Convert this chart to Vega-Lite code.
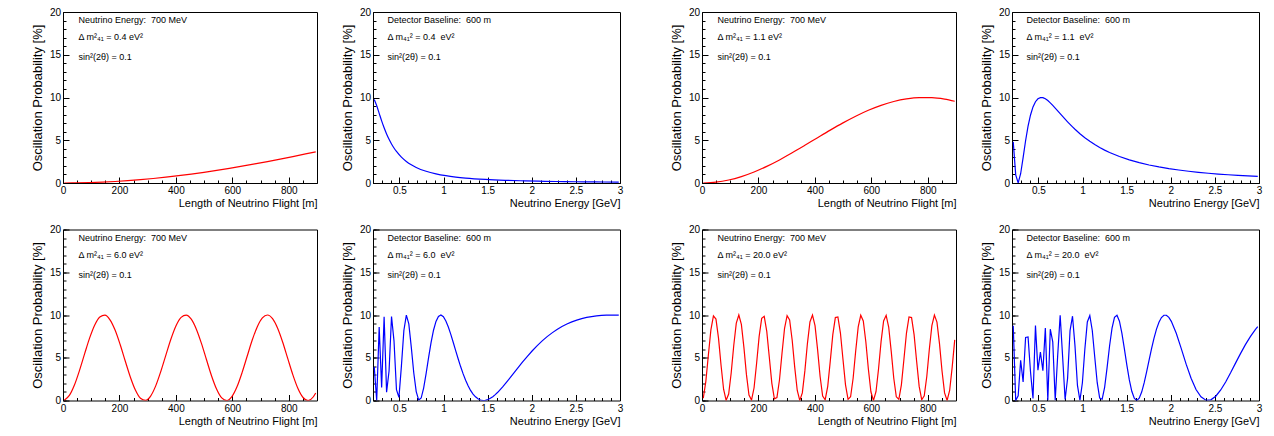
{
  "$schema": "https://vega.github.io/schema/vega-lite/v6.json",
  "background": "white",
  "padding": {"left": 30, "top": 6, "right": 0, "bottom": 0},
  "datasets": {
    "p1": [{"L":4.5,"P":0},{"L":49.5,"P":0.013},{"L":94.5,"P":0.047},{"L":139.5,"P":0.102},{"L":184.5,"P":0.177},{"L":229.5,"P":0.274},{"L":274.5,"P":0.39},{"L":319.5,"P":0.526},{"L":364.5,"P":0.68},{"L":409.5,"P":0.854},{"L":454.5,"P":1.044},{"L":499.5,"P":1.252},{"L":544.5,"P":1.475},{"L":589.5,"P":1.714},{"L":634.5,"P":1.966},{"L":679.5,"P":2.231},{"L":724.5,"P":2.508},{"L":769.5,"P":2.796},{"L":814.5,"P":3.093},{"L":859.5,"P":3.398},{"L":895.5,"P":3.647}],
    "p2": [{"E":0.214,"P":9.777},{"E":0.242,"P":9.044},{"E":0.27,"P":8.15},{"E":0.298,"P":7.264},{"E":0.326,"P":6.452},{"E":0.354,"P":5.733},{"E":0.382,"P":5.106},{"E":0.41,"P":4.563},{"E":0.438,"P":4.094},{"E":0.466,"P":3.687},{"E":0.522,"P":3.027},{"E":0.578,"P":2.522},{"E":0.634,"P":2.129},{"E":0.69,"P":1.82},{"E":0.802,"P":1.37},{"E":0.914,"P":1.067},{"E":1.026,"P":0.853},{"E":1.138,"P":0.697},{"E":1.25,"P":0.58},{"E":1.474,"P":0.42},{"E":1.698,"P":0.317},{"E":1.922,"P":0.248},{"E":2.146,"P":0.199},{"E":2.37,"P":0.164},{"E":2.594,"P":0.137},{"E":2.818,"P":0.116},{"E":2.986,"P":0.103}],
    "p3": [{"L":4.5,"P":0.001},{"L":49.5,"P":0.097},{"L":94.5,"P":0.35},{"L":139.5,"P":0.752},{"L":184.5,"P":1.29},{"L":229.5,"P":1.947},{"L":274.5,"P":2.701},{"L":319.5,"P":3.529},{"L":364.5,"P":4.405},{"L":409.5,"P":5.299},{"L":454.5,"P":6.184},{"L":499.5,"P":7.031},{"L":544.5,"P":7.812},{"L":589.5,"P":8.504},{"L":634.5,"P":9.084},{"L":679.5,"P":9.533},{"L":724.5,"P":9.836},{"L":769.5,"P":9.985},{"L":814.5,"P":9.974},{"L":859.5,"P":9.804},{"L":895.5,"P":9.557}],
    "p4": [{"E":0.214,"P":4.806},{"E":0.242,"P":0.953},{"E":0.27,"P":0.02},{"E":0.298,"P":1.084},{"E":0.326,"P":2.971},{"E":0.354,"P":4.94},{"E":0.382,"P":6.64},{"E":0.41,"P":7.959},{"E":0.438,"P":8.898},{"E":0.466,"P":9.508},{"E":0.494,"P":9.852},{"E":0.522,"P":9.99},{"E":0.55,"P":9.975},{"E":0.578,"P":9.847},{"E":0.606,"P":9.64},{"E":0.634,"P":9.379},{"E":0.662,"P":9.083},{"E":0.69,"P":8.766},{"E":0.718,"P":8.439},{"E":0.746,"P":8.109},{"E":0.774,"P":7.782},{"E":0.802,"P":7.461},{"E":0.83,"P":7.149},{"E":0.858,"P":6.847},{"E":0.886,"P":6.558},{"E":0.914,"P":6.281},{"E":0.97,"P":5.764},{"E":1.026,"P":5.296},{"E":1.082,"P":4.875},{"E":1.138,"P":4.495},{"E":1.194,"P":4.154},{"E":1.25,"P":3.846},{"E":1.306,"P":3.569},{"E":1.418,"P":3.093},{"E":1.53,"P":2.701},{"E":1.642,"P":2.377},{"E":1.754,"P":2.106},{"E":1.866,"P":1.877},{"E":1.978,"P":1.683},{"E":2.09,"P":1.517},{"E":2.202,"P":1.374},{"E":2.314,"P":1.25},{"E":2.426,"P":1.142},{"E":2.538,"P":1.047},{"E":2.65,"P":0.963},{"E":2.762,"P":0.889},{"E":2.874,"P":0.823},{"E":2.986,"P":0.764}],
    "p5": [{"L":4.5,"P":0.03},{"L":22.5,"P":0.59},{"L":40.5,"P":1.81},{"L":58.5,"P":3.52},{"L":76.5,"P":5.45},{"L":94.5,"P":7.32},{"L":112.5,"P":8.83},{"L":130.5,"P":9.77},{"L":148.5,"P":9.98},{"L":166.5,"P":9.44},{"L":184.5,"P":8.24},{"L":202.5,"P":6.55},{"L":220.5,"P":4.62},{"L":238.5,"P":2.75},{"L":256.5,"P":1.22},{"L":274.5,"P":0.26},{"L":292.5,"P":0.01},{"L":310.5,"P":0.52},{"L":328.5,"P":1.71},{"L":346.5,"P":3.39},{"L":364.5,"P":5.31},{"L":382.5,"P":7.19},{"L":400.5,"P":8.74},{"L":418.5,"P":9.72},{"L":436.5,"P":9.99},{"L":454.5,"P":9.51},{"L":472.5,"P":8.34},{"L":490.5,"P":6.68},{"L":508.5,"P":4.76},{"L":526.5,"P":2.87},{"L":544.5,"P":1.31},{"L":562.5,"P":0.3},{"L":580.5,"P":0},{"L":598.5,"P":0.46},{"L":616.5,"P":1.6},{"L":634.5,"P":3.26},{"L":652.5,"P":5.17},{"L":670.5,"P":7.07},{"L":688.5,"P":8.64},{"L":706.5,"P":9.67},{"L":724.5,"P":10},{"L":742.5,"P":9.57},{"L":760.5,"P":8.45},{"L":778.5,"P":6.81},{"L":796.5,"P":4.89},{"L":814.5,"P":3},{"L":832.5,"P":1.4},{"L":850.5,"P":0.35},{"L":868.5,"P":0},{"L":886.5,"P":0.41},{"L":895.5,"P":0.88}],
    "p6": [{"E":0.214,"P":3.93},{"E":0.242,"P":0},{"E":0.27,"P":8.59},{"E":0.298,"P":1.53},{"E":0.326,"P":9.79},{"E":0.354,"P":0.98},{"E":0.382,"P":3.45},{"E":0.41,"P":9.83},{"E":0.438,"P":6.98},{"E":0.466,"P":1.26},{"E":0.494,"P":0.36},{"E":0.522,"P":4.02},{"E":0.55,"P":8.19},{"E":0.578,"P":9.98},{"E":0.606,"P":8.96},{"E":0.634,"P":6.24},{"E":0.662,"P":3.25},{"E":0.69,"P":1.04},{"E":0.718,"P":0.05},{"E":0.746,"P":0.29},{"E":0.774,"P":1.45},{"E":0.802,"P":3.15},{"E":0.83,"P":5.02},{"E":0.858,"P":6.78},{"E":0.886,"P":8.22},{"E":0.914,"P":9.25},{"E":0.942,"P":9.83},{"E":0.97,"P":10},{"E":0.998,"P":9.8},{"E":1.026,"P":9.3},{"E":1.054,"P":8.59},{"E":1.082,"P":7.73},{"E":1.11,"P":6.78},{"E":1.138,"P":5.81},{"E":1.166,"P":4.85},{"E":1.194,"P":3.94},{"E":1.222,"P":3.11},{"E":1.25,"P":2.36},{"E":1.278,"P":1.72},{"E":1.306,"P":1.18},{"E":1.334,"P":0.75},{"E":1.362,"P":0.43},{"E":1.39,"P":0.2},{"E":1.418,"P":0.06},{"E":1.446,"P":0},{"E":1.474,"P":0.02},{"E":1.502,"P":0.11},{"E":1.53,"P":0.26},{"E":1.558,"P":0.45},{"E":1.586,"P":0.69},{"E":1.614,"P":0.96},{"E":1.67,"P":1.59},{"E":1.726,"P":2.29},{"E":1.782,"P":3.02},{"E":1.838,"P":3.76},{"E":1.894,"P":4.48},{"E":1.95,"P":5.17},{"E":2.006,"P":5.82},{"E":2.062,"P":6.42},{"E":2.118,"P":6.97},{"E":2.174,"P":7.47},{"E":2.23,"P":7.91},{"E":2.286,"P":8.3},{"E":2.342,"P":8.65},{"E":2.398,"P":8.94},{"E":2.454,"P":9.19},{"E":2.51,"P":9.4},{"E":2.566,"P":9.58},{"E":2.622,"P":9.72},{"E":2.678,"P":9.82},{"E":2.734,"P":9.9},{"E":2.79,"P":9.96},{"E":2.846,"P":9.99},{"E":2.902,"P":10},{"E":2.958,"P":9.99},{"E":2.986,"P":9.98}],
    "p7": [{"L":4.5,"P":0.26},{"L":13.5,"P":2.21},{"L":22.5,"P":5.29},{"L":31.5,"P":8.26},{"L":40.5,"P":9.89},{"L":49.5,"P":9.52},{"L":58.5,"P":7.29},{"L":67.5,"P":4.13},{"L":76.5,"P":1.32},{"L":85.5,"P":0.02},{"L":94.5,"P":0.76},{"L":103.5,"P":3.24},{"L":112.5,"P":6.43},{"L":121.5,"P":9.05},{"L":130.5,"P":10},{"L":139.5,"P":8.9},{"L":148.5,"P":6.21},{"L":157.5,"P":3.02},{"L":166.5,"P":0.64},{"L":175.5,"P":0.05},{"L":184.5,"P":1.49},{"L":193.5,"P":4.36},{"L":202.5,"P":7.5},{"L":211.5,"P":9.61},{"L":220.5,"P":9.84},{"L":229.5,"P":8.08},{"L":238.5,"P":5.06},{"L":247.5,"P":2.01},{"L":256.5,"P":0.2},{"L":265.5,"P":0.34},{"L":274.5,"P":2.4},{"L":283.5,"P":5.52},{"L":292.5,"P":8.43},{"L":301.5,"P":9.93},{"L":310.5,"P":9.41},{"L":319.5,"P":7.08},{"L":328.5,"P":3.9},{"L":337.5,"P":1.17},{"L":346.5,"P":0.01},{"L":355.5,"P":0.89},{"L":364.5,"P":3.46},{"L":373.5,"P":6.66},{"L":382.5,"P":9.18},{"L":391.5,"P":9.99},{"L":400.5,"P":8.75},{"L":409.5,"P":5.98},{"L":418.5,"P":2.81},{"L":427.5,"P":0.53},{"L":436.5,"P":0.09},{"L":445.5,"P":1.66},{"L":454.5,"P":4.6},{"L":463.5,"P":7.7},{"L":472.5,"P":9.7},{"L":481.5,"P":9.77},{"L":490.5,"P":7.89},{"L":499.5,"P":4.82},{"L":508.5,"P":1.83},{"L":517.5,"P":0.14},{"L":526.5,"P":0.44},{"L":535.5,"P":2.6},{"L":544.5,"P":5.76},{"L":553.5,"P":8.6},{"L":562.5,"P":9.97},{"L":571.5,"P":9.3},{"L":580.5,"P":6.87},{"L":589.5,"P":3.68},{"L":598.5,"P":1.02},{"L":607.5,"P":0},{"L":616.5,"P":1.03},{"L":625.5,"P":3.68},{"L":634.5,"P":6.88},{"L":643.5,"P":9.3},{"L":652.5,"P":9.96},{"L":661.5,"P":8.59},{"L":670.5,"P":5.75},{"L":679.5,"P":2.6},{"L":688.5,"P":0.43},{"L":697.5,"P":0.14},{"L":706.5,"P":1.83},{"L":715.5,"P":4.83},{"L":724.5,"P":7.89},{"L":733.5,"P":9.77},{"L":742.5,"P":9.7},{"L":751.5,"P":7.7},{"L":760.5,"P":4.59},{"L":769.5,"P":1.65},{"L":778.5,"P":0.09},{"L":787.5,"P":0.54},{"L":796.5,"P":2.81},{"L":805.5,"P":5.99},{"L":814.5,"P":8.76},{"L":823.5,"P":9.99},{"L":832.5,"P":9.17},{"L":841.5,"P":6.65},{"L":850.5,"P":3.45},{"L":859.5,"P":0.89},{"L":868.5,"P":0.01},{"L":877.5,"P":1.17},{"L":886.5,"P":3.91},{"L":895.5,"P":7.09}],
    "p8": [{"E":0.214,"P":8.75},{"E":0.242,"P":0},{"E":0.27,"P":0.56},{"E":0.298,"P":4.69},{"E":0.326,"P":2.18},{"E":0.354,"P":7.38},{"E":0.382,"P":7.43},{"E":0.41,"P":3.34},{"E":0.438,"P":0.24},{"E":0.466,"P":8.76},{"E":0.494,"P":3.55},{"E":0.522,"P":5.66},{"E":0.55,"P":3.48},{"E":0.578,"P":8.49},{"E":0.606,"P":0.02},{"E":0.634,"P":8.34},{"E":0.662,"P":6.86},{"E":0.69,"P":0.02},{"E":0.718,"P":5.3},{"E":0.746,"P":9.98},{"E":0.774,"P":5.08},{"E":0.802,"P":0.12},{"E":0.83,"P":2.57},{"E":0.858,"P":8.17},{"E":0.886,"P":9.86},{"E":0.914,"P":6.39},{"E":0.942,"P":1.76},{"E":0.97,"P":0.01},{"E":0.998,"P":2.08},{"E":1.026,"P":6.03},{"E":1.054,"P":9.19},{"E":1.082,"P":9.93},{"E":1.11,"P":8.19},{"E":1.138,"P":5.09},{"E":1.166,"P":2.08},{"E":1.194,"P":0.28},{"E":1.222,"P":0.15},{"E":1.25,"P":1.54},{"E":1.278,"P":3.85},{"E":1.306,"P":6.37},{"E":1.334,"P":8.47},{"E":1.362,"P":9.72},{"E":1.39,"P":9.97},{"E":1.418,"P":9.27},{"E":1.446,"P":7.86},{"E":1.474,"P":6.04},{"E":1.502,"P":4.13},{"E":1.53,"P":2.41},{"E":1.558,"P":1.08},{"E":1.586,"P":0.26},{"E":1.614,"P":0},{"E":1.642,"P":0.27},{"E":1.67,"P":0.99},{"E":1.698,"P":2.06},{"E":1.726,"P":3.34},{"E":1.754,"P":4.71},{"E":1.782,"P":6.07},{"E":1.81,"P":7.3},{"E":1.838,"P":8.35},{"E":1.866,"P":9.16},{"E":1.894,"P":9.7},{"E":1.922,"P":9.97},{"E":1.95,"P":9.97},{"E":1.978,"P":9.72},{"E":2.006,"P":9.26},{"E":2.062,"P":7.86},{"E":2.118,"P":6.09},{"E":2.174,"P":4.25},{"E":2.23,"P":2.6},{"E":2.286,"P":1.29},{"E":2.342,"P":0.43},{"E":2.398,"P":0.03},{"E":2.454,"P":0.08},{"E":2.51,"P":0.5},{"E":2.566,"P":1.23},{"E":2.622,"P":2.17},{"E":2.678,"P":3.24},{"E":2.734,"P":4.37},{"E":2.79,"P":5.48},{"E":2.846,"P":6.53},{"E":2.902,"P":7.47},{"E":2.958,"P":8.28},{"E":2.986,"P":8.63}]
  },
  "columns": 2,
  "spacing": {"row": 14.5, "column": 45},
  "concat": [
    {"hconcat": [
      {"width": 254, "height": 171,
       "layer": [
        {"data": {"name": "p1"}, "mark": {"type": "line", "color": "#ff0000", "strokeWidth": 1.2, "clip": true, "interpolate": "monotone"},
         "encoding": {
          "x": {"field": "L", "type": "quantitative", "scale": {"domain": [0, 900], "nice": false, "zero": false}, "axis": {"values": [0, 200, 400, 600, 800], "format": "d", "tickSize": -6, "title": "Length of Neutrino Flight [m]"}},
          "y": {"field": "P", "type": "quantitative", "scale": {"domain": [0, 20], "nice": false}, "axis": {"values": [0, 5, 10, 15, 20], "format": "d", "tickSize": -6, "title": "Oscillation Probability [%]"}}}},
        {"data": {"values": [{"x": 55, "y": 19.05, "t": "Neutrino Energy:\u00a0 700 MeV"}, {"x": 55, "y": 17.05, "t": "Δ m²₄₁ = 0.4 eV²"}, {"x": 55, "y": 14.7, "t": "sin²(2θ) = 0.1"}]},
         "mark": {"type": "text", "align": "left", "baseline": "middle", "fontSize": 9, "color": "#000000"},
         "encoding": {
          "x": {"field": "x", "type": "quantitative", "scale": {"domain": [0, 900], "nice": false, "zero": false}, "axis": {"orient": "bottom", "values": [0,50,100,150,200,250,300,350,400,450,500,550,600,650,700,750,800,850,900], "tickSize": -3, "labels": false, "title": null}},
          "y": {"field": "y", "type": "quantitative", "scale": {"domain": [0, 20], "nice": false}, "axis": {"orient": "left", "values": [0,1,2,3,4,5,6,7,8,9,10,11,12,13,14,15,16,17,18,19,20], "tickSize": -3, "labels": false, "title": null}},
          "text": {"field": "t"}}}
       ],
       "resolve": {"axis": {"x": "independent", "y": "independent"}}},
      {"width": 247, "height": 171,
       "layer": [
        {"data": {"name": "p2"}, "mark": {"type": "line", "color": "#0000ff", "strokeWidth": 1.2, "clip": true, "interpolate": "monotone"},
         "encoding": {
          "x": {"field": "E", "type": "quantitative", "scale": {"domain": [0.2, 3], "nice": false, "zero": false}, "axis": {"values": [0.5, 1, 1.5, 2, 2.5, 3], "format": "~g", "tickSize": -6, "title": "Neutrino Energy [GeV]"}},
          "y": {"field": "P", "type": "quantitative", "scale": {"domain": [0, 20], "nice": false}, "axis": {"values": [0, 5, 10, 15, 20], "format": "d", "tickSize": -6, "title": "Oscillation Probability [%]"}}}},
        {"data": {"values": [{"x": 0.365, "y": 19.05, "t": "Detector Baseline:\u00a0 600 m"}, {"x": 0.365, "y": 17.05, "t": "Δ m₄₁² = 0.4\u00a0 eV²"}, {"x": 0.365, "y": 14.7, "t": "sin²(2θ) = 0.1"}]},
         "mark": {"type": "text", "align": "left", "baseline": "middle", "fontSize": 9, "color": "#000000"},
         "encoding": {
          "x": {"field": "x", "type": "quantitative", "scale": {"domain": [0.2, 3], "nice": false, "zero": false}, "axis": {"orient": "bottom", "values": [0.2,0.3,0.4,0.5,0.6,0.7,0.8,0.9,1,1.1,1.2,1.3,1.4,1.5,1.6,1.7,1.8,1.9,2,2.1,2.2,2.3,2.4,2.5,2.6,2.7,2.8,2.9,3], "tickSize": -3, "labels": false, "title": null}},
          "y": {"field": "y", "type": "quantitative", "scale": {"domain": [0, 20], "nice": false}, "axis": {"orient": "left", "values": [0,1,2,3,4,5,6,7,8,9,10,11,12,13,14,15,16,17,18,19,20], "tickSize": -3, "labels": false, "title": null}},
          "text": {"field": "t"}}}
       ],
       "resolve": {"axis": {"x": "independent", "y": "independent"}}}
    ], "spacing": 22},
    {"hconcat": [
      {"width": 254, "height": 171,
       "layer": [
        {"data": {"name": "p3"}, "mark": {"type": "line", "color": "#ff0000", "strokeWidth": 1.2, "clip": true, "interpolate": "monotone"},
         "encoding": {
          "x": {"field": "L", "type": "quantitative", "scale": {"domain": [0, 900], "nice": false, "zero": false}, "axis": {"values": [0, 200, 400, 600, 800], "format": "d", "tickSize": -6, "title": "Length of Neutrino Flight [m]"}},
          "y": {"field": "P", "type": "quantitative", "scale": {"domain": [0, 20], "nice": false}, "axis": {"values": [0, 5, 10, 15, 20], "format": "d", "tickSize": -6, "title": "Oscillation Probability [%]"}}}},
        {"data": {"values": [{"x": 55, "y": 19.05, "t": "Neutrino Energy:\u00a0 700 MeV"}, {"x": 55, "y": 17.05, "t": "Δ m²₄₁ = 1.1 eV²"}, {"x": 55, "y": 14.7, "t": "sin²(2θ) = 0.1"}]},
         "mark": {"type": "text", "align": "left", "baseline": "middle", "fontSize": 9, "color": "#000000"},
         "encoding": {
          "x": {"field": "x", "type": "quantitative", "scale": {"domain": [0, 900], "nice": false, "zero": false}, "axis": {"orient": "bottom", "values": [0,50,100,150,200,250,300,350,400,450,500,550,600,650,700,750,800,850,900], "tickSize": -3, "labels": false, "title": null}},
          "y": {"field": "y", "type": "quantitative", "scale": {"domain": [0, 20], "nice": false}, "axis": {"orient": "left", "values": [0,1,2,3,4,5,6,7,8,9,10,11,12,13,14,15,16,17,18,19,20], "tickSize": -3, "labels": false, "title": null}},
          "text": {"field": "t"}}}
       ],
       "resolve": {"axis": {"x": "independent", "y": "independent"}}},
      {"width": 247, "height": 171,
       "layer": [
        {"data": {"name": "p4"}, "mark": {"type": "line", "color": "#0000ff", "strokeWidth": 1.2, "clip": true},
         "encoding": {
          "x": {"field": "E", "type": "quantitative", "scale": {"domain": [0.2, 3], "nice": false, "zero": false}, "axis": {"values": [0.5, 1, 1.5, 2, 2.5, 3], "format": "~g", "tickSize": -6, "title": "Neutrino Energy [GeV]"}},
          "y": {"field": "P", "type": "quantitative", "scale": {"domain": [0, 20], "nice": false}, "axis": {"values": [0, 5, 10, 15, 20], "format": "d", "tickSize": -6, "title": "Oscillation Probability [%]"}}}},
        {"data": {"values": [{"x": 0.365, "y": 19.05, "t": "Detector Baseline:\u00a0 600 m"}, {"x": 0.365, "y": 17.05, "t": "Δ m₄₁² = 1.1\u00a0 eV²"}, {"x": 0.365, "y": 14.7, "t": "sin²(2θ) = 0.1"}]},
         "mark": {"type": "text", "align": "left", "baseline": "middle", "fontSize": 9, "color": "#000000"},
         "encoding": {
          "x": {"field": "x", "type": "quantitative", "scale": {"domain": [0.2, 3], "nice": false, "zero": false}, "axis": {"orient": "bottom", "values": [0.2,0.3,0.4,0.5,0.6,0.7,0.8,0.9,1,1.1,1.2,1.3,1.4,1.5,1.6,1.7,1.8,1.9,2,2.1,2.2,2.3,2.4,2.5,2.6,2.7,2.8,2.9,3], "tickSize": -3, "labels": false, "title": null}},
          "y": {"field": "y", "type": "quantitative", "scale": {"domain": [0, 20], "nice": false}, "axis": {"orient": "left", "values": [0,1,2,3,4,5,6,7,8,9,10,11,12,13,14,15,16,17,18,19,20], "tickSize": -3, "labels": false, "title": null}},
          "text": {"field": "t"}}}
       ],
       "resolve": {"axis": {"x": "independent", "y": "independent"}}}
    ], "spacing": 22},
    {"hconcat": [
      {"width": 254, "height": 171,
       "layer": [
        {"data": {"name": "p5"}, "mark": {"type": "line", "color": "#ff0000", "strokeWidth": 1.2, "clip": true, "interpolate": "monotone"},
         "encoding": {
          "x": {"field": "L", "type": "quantitative", "scale": {"domain": [0, 900], "nice": false, "zero": false}, "axis": {"values": [0, 200, 400, 600, 800], "format": "d", "tickSize": -6, "title": "Length of Neutrino Flight [m]"}},
          "y": {"field": "P", "type": "quantitative", "scale": {"domain": [0, 20], "nice": false}, "axis": {"values": [0, 5, 10, 15, 20], "format": "d", "tickSize": -6, "title": "Oscillation Probability [%]"}}}},
        {"data": {"values": [{"x": 55, "y": 19.05, "t": "Neutrino Energy:\u00a0 700 MeV"}, {"x": 55, "y": 17.05, "t": "Δ m²₄₁ = 6.0 eV²"}, {"x": 55, "y": 14.7, "t": "sin²(2θ) = 0.1"}]},
         "mark": {"type": "text", "align": "left", "baseline": "middle", "fontSize": 9, "color": "#000000"},
         "encoding": {
          "x": {"field": "x", "type": "quantitative", "scale": {"domain": [0, 900], "nice": false, "zero": false}, "axis": {"orient": "bottom", "values": [0,50,100,150,200,250,300,350,400,450,500,550,600,650,700,750,800,850,900], "tickSize": -3, "labels": false, "title": null}},
          "y": {"field": "y", "type": "quantitative", "scale": {"domain": [0, 20], "nice": false}, "axis": {"orient": "left", "values": [0,1,2,3,4,5,6,7,8,9,10,11,12,13,14,15,16,17,18,19,20], "tickSize": -3, "labels": false, "title": null}},
          "text": {"field": "t"}}}
       ],
       "resolve": {"axis": {"x": "independent", "y": "independent"}}},
      {"width": 247, "height": 171,
       "layer": [
        {"data": {"name": "p6"}, "mark": {"type": "line", "color": "#0000ff", "strokeWidth": 1.2, "clip": true},
         "encoding": {
          "x": {"field": "E", "type": "quantitative", "scale": {"domain": [0.2, 3], "nice": false, "zero": false}, "axis": {"values": [0.5, 1, 1.5, 2, 2.5, 3], "format": "~g", "tickSize": -6, "title": "Neutrino Energy [GeV]"}},
          "y": {"field": "P", "type": "quantitative", "scale": {"domain": [0, 20], "nice": false}, "axis": {"values": [0, 5, 10, 15, 20], "format": "d", "tickSize": -6, "title": "Oscillation Probability [%]"}}}},
        {"data": {"values": [{"x": 0.365, "y": 19.05, "t": "Detector Baseline:\u00a0 600 m"}, {"x": 0.365, "y": 17.05, "t": "Δ m₄₁² = 6.0\u00a0 eV²"}, {"x": 0.365, "y": 14.7, "t": "sin²(2θ) = 0.1"}]},
         "mark": {"type": "text", "align": "left", "baseline": "middle", "fontSize": 9, "color": "#000000"},
         "encoding": {
          "x": {"field": "x", "type": "quantitative", "scale": {"domain": [0.2, 3], "nice": false, "zero": false}, "axis": {"orient": "bottom", "values": [0.2,0.3,0.4,0.5,0.6,0.7,0.8,0.9,1,1.1,1.2,1.3,1.4,1.5,1.6,1.7,1.8,1.9,2,2.1,2.2,2.3,2.4,2.5,2.6,2.7,2.8,2.9,3], "tickSize": -3, "labels": false, "title": null}},
          "y": {"field": "y", "type": "quantitative", "scale": {"domain": [0, 20], "nice": false}, "axis": {"orient": "left", "values": [0,1,2,3,4,5,6,7,8,9,10,11,12,13,14,15,16,17,18,19,20], "tickSize": -3, "labels": false, "title": null}},
          "text": {"field": "t"}}}
       ],
       "resolve": {"axis": {"x": "independent", "y": "independent"}}}
    ], "spacing": 22},
    {"hconcat": [
      {"width": 254, "height": 171,
       "layer": [
        {"data": {"name": "p7"}, "mark": {"type": "line", "color": "#ff0000", "strokeWidth": 1.2, "clip": true},
         "encoding": {
          "x": {"field": "L", "type": "quantitative", "scale": {"domain": [0, 900], "nice": false, "zero": false}, "axis": {"values": [0, 200, 400, 600, 800], "format": "d", "tickSize": -6, "title": "Length of Neutrino Flight [m]"}},
          "y": {"field": "P", "type": "quantitative", "scale": {"domain": [0, 20], "nice": false}, "axis": {"values": [0, 5, 10, 15, 20], "format": "d", "tickSize": -6, "title": "Oscillation Probability [%]"}}}},
        {"data": {"values": [{"x": 55, "y": 19.05, "t": "Neutrino Energy:\u00a0 700 MeV"}, {"x": 55, "y": 17.05, "t": "Δ m²₄₁ = 20.0 eV²"}, {"x": 55, "y": 14.7, "t": "sin²(2θ) = 0.1"}]},
         "mark": {"type": "text", "align": "left", "baseline": "middle", "fontSize": 9, "color": "#000000"},
         "encoding": {
          "x": {"field": "x", "type": "quantitative", "scale": {"domain": [0, 900], "nice": false, "zero": false}, "axis": {"orient": "bottom", "values": [0,50,100,150,200,250,300,350,400,450,500,550,600,650,700,750,800,850,900], "tickSize": -3, "labels": false, "title": null}},
          "y": {"field": "y", "type": "quantitative", "scale": {"domain": [0, 20], "nice": false}, "axis": {"orient": "left", "values": [0,1,2,3,4,5,6,7,8,9,10,11,12,13,14,15,16,17,18,19,20], "tickSize": -3, "labels": false, "title": null}},
          "text": {"field": "t"}}}
       ],
       "resolve": {"axis": {"x": "independent", "y": "independent"}}},
      {"width": 247, "height": 171,
       "layer": [
        {"data": {"name": "p8"}, "mark": {"type": "line", "color": "#0000ff", "strokeWidth": 1.2, "clip": true},
         "encoding": {
          "x": {"field": "E", "type": "quantitative", "scale": {"domain": [0.2, 3], "nice": false, "zero": false}, "axis": {"values": [0.5, 1, 1.5, 2, 2.5, 3], "format": "~g", "tickSize": -6, "title": "Neutrino Energy [GeV]"}},
          "y": {"field": "P", "type": "quantitative", "scale": {"domain": [0, 20], "nice": false}, "axis": {"values": [0, 5, 10, 15, 20], "format": "d", "tickSize": -6, "title": "Oscillation Probability [%]"}}}},
        {"data": {"values": [{"x": 0.365, "y": 19.05, "t": "Detector Baseline:\u00a0 600 m"}, {"x": 0.365, "y": 17.05, "t": "Δ m₄₁² = 20.0\u00a0 eV²"}, {"x": 0.365, "y": 14.7, "t": "sin²(2θ) = 0.1"}]},
         "mark": {"type": "text", "align": "left", "baseline": "middle", "fontSize": 9, "color": "#000000"},
         "encoding": {
          "x": {"field": "x", "type": "quantitative", "scale": {"domain": [0.2, 3], "nice": false, "zero": false}, "axis": {"orient": "bottom", "values": [0.2,0.3,0.4,0.5,0.6,0.7,0.8,0.9,1,1.1,1.2,1.3,1.4,1.5,1.6,1.7,1.8,1.9,2,2.1,2.2,2.3,2.4,2.5,2.6,2.7,2.8,2.9,3], "tickSize": -3, "labels": false, "title": null}},
          "y": {"field": "y", "type": "quantitative", "scale": {"domain": [0, 20], "nice": false}, "axis": {"orient": "left", "values": [0,1,2,3,4,5,6,7,8,9,10,11,12,13,14,15,16,17,18,19,20], "tickSize": -3, "labels": false, "title": null}},
          "text": {"field": "t"}}}
       ],
       "resolve": {"axis": {"x": "independent", "y": "independent"}}}
    ], "spacing": 22}
  ],
  "config": {
    "font": "Liberation Sans",
    "view": {"stroke": "#000000", "strokeWidth": 1},
    "axis": {"domain": false, "grid": false, "labelFlush": false, "labelOverlap": false, "labelColor": "#000000", "titleColor": "#000000", "tickColor": "#000000", "tickWidth": 1, "titleFontWeight": "normal", "labelFontSize": 10, "labelFont": "Liberation Sans", "titleFont": "Liberation Sans"},
    "axisX": {"titleAnchor": "end", "titleFontSize": 11, "labelPadding": 8.5, "titlePadding": 2},
    "axisY": {"titleFontSize": 13, "labelPadding": 8.5, "titlePadding": 5},
    "text": {"font": "Liberation Sans"}
  }
}
